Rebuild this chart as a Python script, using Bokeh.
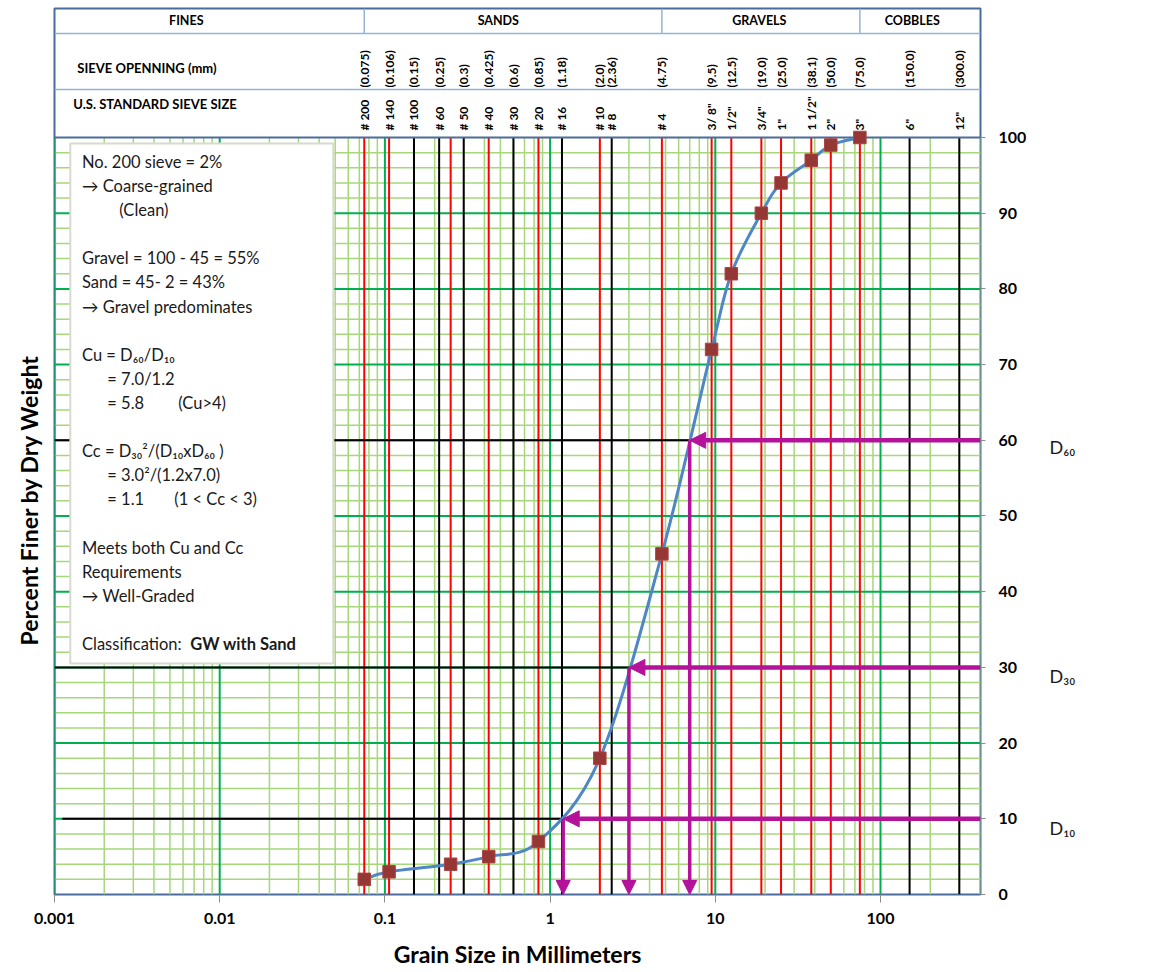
import numpy as np
from bokeh.plotting import figure
from bokeh.models import (Range1d, LinearAxis, FixedTicker, CustomJSTickFormatter,
                          Arrow, NormalHead, ColumnDataSource, Title)
from bokeh.embed import file_html
from bokeh.resources import INLINE
from bokeh.core.properties import value

# ---------------- data ----------------
grain_size_mm = [0.075, 0.106, 0.25, 0.425, 0.85, 2.0, 4.75, 9.5, 12.5, 19.0, 25.0, 38.1, 50.0, 75.0]
percent_finer = [2, 3, 4, 5, 7, 18, 45, 72, 82, 90, 94, 97, 99, 100]

d_percent = [10, 30, 60]
d_size_mm = [1.2, 3.0, 7.0]
d_names = ["D₁₀", "D₃₀", "D₆₀"]

sieve_opening_labels = ["(0.075)", "(0.106)", "(0.15)", "(0.25)", "(0.3)", "(0.425)", "(0.6)",
                        "(0.85)", "(1.18)", "(2.0)", "(2.36)", "(4.75)", "(9.5)", "(12.5)",
                        "(19.0)", "(25.0)", "(38.1)", "(50.0)", "(75.0)", "(150.0)", "(300.0)"]
sieve_size_labels = ["# 200", "# 140", "# 100", "# 60", "# 50", "# 40", "# 30", "# 20", "# 16",
                     "# 10", "# 8", "# 4", "3/ 8\"", "1/2\"", "3/4\"", "1\"", "1 1/2\"", "2\"",
                     "3\"", "6\"", "12\""]
sieve_label_pos = [0.075, 0.106, 0.15, 0.213, 0.3, 0.425, 0.6, 0.85, 1.18, 2.0, 2.36, 4.75,
                   9.5, 12.5, 19.0, 25.0, 38.1, 50.0, 75.0, 150.0, 300.0]
black_sieve_lines = [0.15, 0.213, 0.3, 0.6, 1.18, 2.36, 150.0, 300.0]

soil_classes = ["FINES", "SANDS", "GRAVELS", "COBBLES"]
class_bounds_mm = [0.075, 4.75, 75.0]

x_ticks = [0.001, 0.01, 0.1, 1, 10, 100]
y_ticks = [0, 10, 20, 30, 40, 50, 60, 70, 80, 90, 100]

note_lines = ["No. 200 sieve = 2%", "→ Coarse-grained", "(Clean)", "",
              "Gravel = 100 - 45 = 55%", "Sand = 45- 2 = 43%", "→ Gravel predominates", "",
              "Cu = D₆₀/D₁₀", "= 7.0/1.2", "= 5.8", "",
              "Cc = D₃₀²/(D₁₀xD₆₀ )", "= 3.0²/(1.2x7.0)", "= 1.1", "",
              "Meets both Cu and Cc", "Requirements", "→ Well-Graded", "",
              "Classification: "]
note_extra = ["(Cu>4)", "(1 < Cc < 3)", "GW with Sand"]

# ---------------- styling ----------------
FONT = "Lato"
BLUE = "#4A6C9C"
LBLUE = "#95B3D7"
GREEN = "#00B050"
LGREEN = "#A6D77A"
RED = "#FF0000"
MAG = "#B4129A"
CURVE = "#4F86C6"
XMAX = 403.0
YTOP = 117.04


def px2x(px):
    return 10 ** (-3 + (px - 54.2) / 165.2)


def px2y(py):
    return (894 - py) / 7.57


p = figure(width=1146, height=972, x_axis_type="log",
           x_range=Range1d(0.001, XMAX), y_range=Range1d(0, YTOP),
           y_axis_location="right", output_backend="svg", toolbar_location=None,
           min_border_left=54, min_border_right=166, min_border_top=8, min_border_bottom=78)
p.grid.visible = False
p.outline_line_color = BLUE
p.outline_line_width = 2
p.background_fill_color = "white"
p.border_fill_color = "white"

# bottom axis
xa = p.xaxis[0]
xa.ticker = FixedTicker(ticks=x_ticks)
xa.formatter = CustomJSTickFormatter(code="return String(tick);")
xa.axis_line_color = None
xa.major_tick_line_color = "#8C8C8C"
xa.major_tick_out = 8
xa.major_tick_in = 0
xa.minor_tick_line_color = None
xa.major_label_text_font = FONT
xa.major_label_text_font_style = "bold"
xa.major_label_text_font_size = "16px"
xa.major_label_text_color = "black"
xa.major_label_standoff = 10
xa.axis_label = "Grain Size in Millimeters"
xa.axis_label_text_font = FONT
xa.axis_label_text_font_style = "bold"
xa.axis_label_text_font_size = "23px"
xa.axis_label_text_color = "black"
xa.axis_label_standoff = 13

# right axis
ya = p.yaxis[0]
ya.ticker = FixedTicker(ticks=y_ticks)
ya.axis_line_color = None
ya.major_tick_line_color = "#8C8C8C"
ya.major_tick_out = 5
ya.major_tick_in = 0
ya.minor_tick_line_color = None
ya.major_label_text_font = FONT
ya.major_label_text_font_style = "bold"
ya.major_label_text_font_size = "16px"
ya.major_label_text_color = "black"
ya.major_label_standoff = 13

# second right axis carrying the D10 / D30 / D60 names
d_label_y = [round(px2y(827), 2), round(px2y(676), 2), round(px2y(447), 2)]
da = LinearAxis(ticker=FixedTicker(ticks=d_label_y),
                major_label_overrides={t: nm for t, nm in zip(d_label_y, d_names)},
                axis_line_color=None, major_tick_line_color=None, minor_tick_line_color=None,
                major_tick_out=0, major_tick_in=0, major_label_standoff=20,
                major_label_text_font=FONT, major_label_text_font_size="18px",
                major_label_text_color="#1A1A1A")
p.add_layout(da, "right")

# y title on the left
ytitle = Title(text="Percent Finer by Dry Weight", align="left", offset=249, standoff=24,
               text_font=FONT, text_font_style="bold", text_font_size="23px",
               text_color="black")
p.add_layout(ytitle, "left")

# ---------------- grid ----------------
minor_x = [m * 10.0 ** e for e in range(-3, 3) for m in range(2, 10) if m * 10.0 ** e < XMAX]
major_x = [10.0 ** e for e in range(-3, 3)]
minor_y = [v for v in range(2, 100, 2) if v % 10]
major_y = list(range(10, 100, 10))

p.segment(x0=minor_x, y0=0, x1=minor_x, y1=100, line_color=LGREEN, line_width=1.5)
p.segment(x0=0.001, y0=minor_y, x1=XMAX, y1=minor_y, line_color=LGREEN, line_width=1.5)
p.segment(x0=major_x, y0=0, x1=major_x, y1=100, line_color=GREEN, line_width=2)
p.segment(x0=0.001, y0=major_y, x1=XMAX, y1=major_y, line_color=GREEN, line_width=2)

# sieve lines
p.segment(x0=black_sieve_lines, y0=0, x1=black_sieve_lines, y1=100, line_color="black", line_width=2)
p.segment(x0=grain_size_mm, y0=0, x1=grain_size_mm, y1=100, line_color=RED, line_width=2)

# black reference lines to the D points
d_start = [px2x(62), 0.001, 0.001]
p.segment(x0=d_start, y0=d_percent, x1=d_size_mm, y1=d_percent, line_color="black", line_width=2)

# ---------------- header ----------------
p.segment(x0=0.001, y0=100, x1=XMAX, y1=100, line_color=BLUE, line_width=2)
p.segment(x0=0.001, y0=[px2y(89), px2y(33)], x1=XMAX, y1=[px2y(89), px2y(33)],
          line_color=LBLUE, line_width=1.5)
p.segment(x0=class_bounds_mm, y0=px2y(33), x1=class_bounds_mm, y1=YTOP,
          line_color=LBLUE, line_width=1.5)

p.text(x=[px2x(186), px2x(498), px2x(759), px2x(912)], y=px2y(20), text=soil_classes,
       text_font=value(FONT), text_font_style="bold", text_font_size="12.5px",
       text_align="center", text_baseline="middle", text_color="black")
p.text(x=[px2x(77), px2x(73)], y=[px2y(68), px2y(104)],
       text=["SIEVE OPENNING (mm)", "U.S. STANDARD SIEVE SIZE"],
       text_font=value(FONT), text_font_style="bold", text_font_size="13px",
       text_align="left", text_baseline="middle", text_color="black")
p.text(x=sieve_label_pos, y=px2y(87), text=sieve_opening_labels, angle=np.pi / 2,
       text_font=value(FONT), text_font_style="bold", text_font_size="12px",
       text_align="left", text_baseline="middle", text_color="black")
p.text(x=sieve_label_pos, y=px2y(130), text=sieve_size_labels, angle=np.pi / 2,
       text_font=value(FONT), text_font_style="bold", text_font_size="12px",
       text_align="left", text_baseline="middle", text_color="black")

# ---------------- notes box ----------------
p.quad(left=px2x(70), right=px2x(333), bottom=px2y(663), top=px2y(143),
       fill_color="white", line_color="#D9D9CF", line_width=2)
indent = {2: 119, 9: 107, 10: 107, 13: 107, 14: 107}
nx, ny, nt = [], [], []
for i, t in enumerate(note_lines):
    if t:
        nx.append(px2x(indent.get(i, 81.7)))
        ny.append(px2y(161.5 + 24.1 * i))
        nt.append(t)
nx += [px2x(178), px2x(174)]
ny += [px2y(161.5 + 24.1 * 10), px2y(161.5 + 24.1 * 14)]
nt += note_extra[:2]
p.text(x=nx, y=ny, text=nt, text_font=value(FONT), text_font_size="16.5px",
       text_align="left", text_baseline="middle", text_color="#1A1A1A")
p.text(x=[px2x(190)], y=[px2y(161.5 + 24.1 * 20)], text=[note_extra[2]],
       text_font=value(FONT), text_font_style="bold", text_font_size="16.5px",
       text_align="left", text_baseline="middle", text_color="#1A1A1A")

# ---------------- smooth gradation curve (Catmull-Rom -> Bezier) ----------------
u = np.log10(np.array(grain_size_mm, dtype=float))
v = np.array(percent_finer, dtype=float)
n = len(u)
bx0, by0, bx1, by1, c0x, c0y, c1x, c1y = [], [], [], [], [], [], [], []
for i in range(n - 1):
    i0, i3 = max(i - 1, 0), min(i + 2, n - 1)
    bx0.append(10 ** u[i]); by0.append(v[i])
    bx1.append(10 ** u[i + 1]); by1.append(v[i + 1])
    c0x.append(10 ** (u[i] + (u[i + 1] - u[i0]) / 6)); c0y.append(v[i] + (v[i + 1] - v[i0]) / 6)
    c1x.append(10 ** (u[i + 1] - (u[i3] - u[i]) / 6)); c1y.append(v[i + 1] - (v[i3] - v[i]) / 6)
p.bezier(x0=bx0, y0=by0, x1=bx1, y1=by1, cx0=c0x, cy0=c0y, cx1=c1x, cy1=c1y,
         line_color=CURVE, line_width=3)

p.scatter(grain_size_mm, percent_finer, marker="square", size=12.5,
          fill_color="#953735", line_color="#A94442", line_width=1)

# ---------------- magenta arrows ----------------
h_src = ColumnDataSource(dict(xs=[XMAX] * 3, ys=d_percent, xe=d_size_mm, ye=d_percent))
p.add_layout(Arrow(end=NormalHead(size=16, fill_color=MAG, line_color=MAG),
                   x_start="xs", y_start="ys", x_end="xe", y_end="ye", source=h_src,
                   line_color=MAG, line_width=4.5))
v_src = ColumnDataSource(dict(xs=d_size_mm, ys=d_percent, xe=d_size_mm, ye=[0, 0, 0]))
p.add_layout(Arrow(end=NormalHead(size=14, fill_color=MAG, line_color=MAG),
                   x_start="xs", y_start="ys", x_end="xe", y_end="ye", source=v_src,
                   line_color=MAG, line_width=3.5))

open("out.html", "w").write(file_html(p, INLINE))
